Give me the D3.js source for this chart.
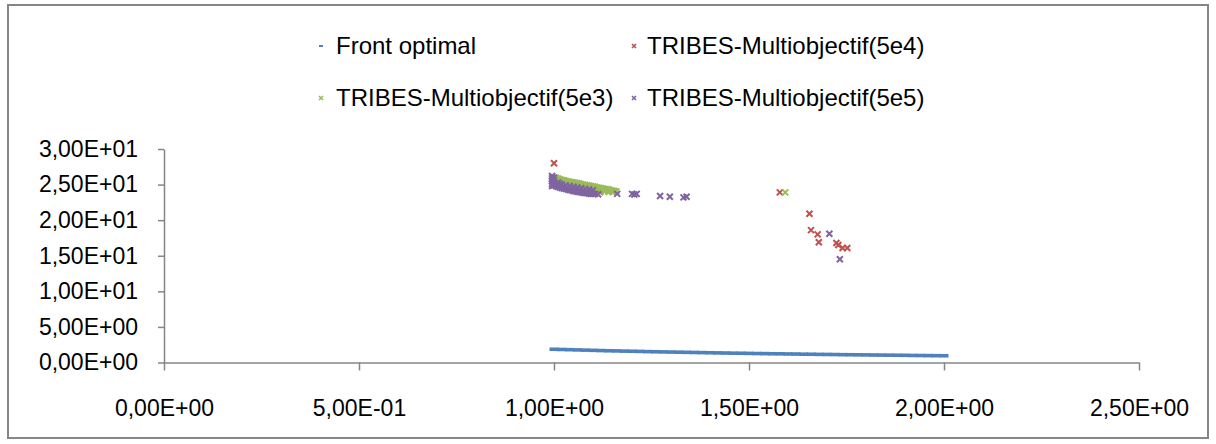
<!DOCTYPE html>
<html>
<head>
<meta charset="utf-8">
<script src="https://cdn.jsdelivr.net/npm/d3@7/dist/d3.min.js"></script>
<style>
  html, body { margin: 0; padding: 0; background: #ffffff; }
  svg { display: block; }
  text { font-family: "Liberation Sans", Arial, sans-serif; fill: #000; }
</style>
</head>
<body>
<svg id="chart" width="1216" height="444"></svg>
<script>
// ---------- DATA ----------
const seriesNames = ["Front optimal", "TRIBES-Multiobjectif(5e4)", "TRIBES-Multiobjectif(5e3)", "TRIBES-Multiobjectif(5e5)"];

const xTickValues = [0, 0.5, 1.0, 1.5, 2.0, 2.5];
const xTickLabels = ["0,00E+00", "5,00E-01", "1,00E+00", "1,50E+00", "2,00E+00", "2,50E+00"];
const yTickValues = [0, 5, 10, 15, 20, 25, 30];
const yTickLabels = ["0,00E+00", "5,00E+00", "1,00E+01", "1,50E+01", "2,00E+01", "2,50E+01", "3,00E+01"];

// Front optimal
const frontX = [1.00,1.02,1.04,1.06,1.08,1.10,1.12,1.14,1.16,1.18,1.20,1.22,1.24,1.26,1.28,1.30,1.32,1.34,1.36,1.38,1.40,1.42,1.44,1.46,1.48,1.50,1.52,1.54,1.56,1.58,1.60,1.62,1.64,1.66,1.68,1.70,1.72,1.74,1.76,1.78,1.80,1.82,1.84,1.86,1.88,1.90,1.92,1.94,1.96,1.98,2.00];
const frontY = [1.86,1.83,1.80,1.77,1.74,1.71,1.68,1.65,1.63,1.60,1.58,1.56,1.53,1.51,1.49,1.47,1.45,1.43,1.41,1.39,1.37,1.35,1.33,1.31,1.30,1.28,1.26,1.25,1.23,1.22,1.20,1.19,1.17,1.16,1.14,1.13,1.12,1.10,1.09,1.08,1.07,1.05,1.04,1.03,1.02,1.01,0.99,0.98,0.97,0.96,0.95];

// TRIBES-Multiobjectif(5e4) (red)
const red5e4X = [1.000,1.02,1.04,1.06,1.08,1.10,1.118,1.131,1.14,1.579,1.655,1.659,1.676,1.679,1.724,1.729,1.740,1.752];
const red5e4Y = [28.0,25.5,25.2,25.0,24.8,24.5,23.95,24.2,24.1,23.9,20.9,18.6,18.0,16.9,16.8,16.5,16.1,16.1];

// TRIBES-Multiobjectif(5e3) (green)
const green5e3X = [1.005,1.010,1.015,1.020,1.025,1.030,1.035,1.040,1.045,1.050,1.055,1.060,1.065,1.070,1.075,1.080,1.085,1.090,1.095,1.100,1.105,1.110,1.115,1.120,1.125,1.130,1.135,1.140,1.145,1.150,1.155,1.160,
                   1.010,1.020,1.030,1.040,1.050,1.060,1.070,1.080,1.090,1.100,1.110,1.120,1.130,1.140,1.150,
                   1.593];
const green5e3Y = [25.95,25.85,25.75,25.65,25.6,25.5,25.45,25.4,25.35,25.3,25.25,25.2,25.15,25.05,25.0,24.95,24.9,24.85,24.8,24.75,24.7,24.6,24.55,24.5,24.45,24.4,24.35,24.3,24.2,24.15,24.1,24.05,
                   25.4,25.2,25.05,24.95,24.85,24.75,24.65,24.55,24.45,24.35,24.25,24.15,24.05,24.0,23.95,
                   23.9];

// TRIBES-Multiobjectif(5e5) (purple)
const purple5e5X = [0.995,0.995,0.995,0.995,0.995,1.000,1.000,1.000,1.000,
                    1.005,1.010,1.015,1.020,1.025,1.030,1.035,1.040,1.045,1.050,1.055,1.060,1.065,1.070,1.075,1.080,1.085,1.090,1.095,1.100,1.105,1.113,
                    1.010,1.015,1.020,1.030,1.040,1.050,1.060,1.070,1.080,1.090,1.100,
                    1.162,1.200,1.206,1.212,1.272,1.297,1.332,1.340,1.706,1.733];
const purple5e5Y = [26.2,25.9,25.5,25.1,24.8,26.0,25.6,25.2,24.9,
                    24.8,24.7,24.6,24.5,24.45,24.4,24.3,24.25,24.2,24.1,24.05,24.0,23.95,23.9,23.85,23.8,23.8,23.75,23.7,23.7,23.7,23.65,
                    25.3,25.1,25.0,24.9,24.8,24.7,24.6,24.5,24.4,24.3,24.2,
                    23.7,23.7,23.6,23.7,23.4,23.3,23.2,23.3,18.1,14.5];

// ---------- LAYOUT ----------
const svg = d3.select("#chart");
const colors = ["#4F81BD", "#C0504D", "#9BBB59", "#8064A2"];
const axisColor = "#868686";

const plotLeft = 164, plotRight = 1139, plotTop = 149, plotBottom = 362.5;
const x = d3.scaleLinear().domain([0, 2.5]).range([plotLeft, plotRight]);
const y = d3.scaleLinear().domain([0, 30]).range([plotBottom, plotTop]);

// outer border
svg.append("rect")
  .attr("x", 8).attr("y", 5).attr("width", 1200).attr("height", 433)
  .attr("fill", "none").attr("stroke", axisColor).attr("stroke-width", 2);

// y axis
const yAxis = d3.axisLeft(y).tickValues(yTickValues)
  .tickFormat((d, i) => yTickLabels[i]).tickSizeOuter(0).tickSizeInner(6).tickPadding(20);
const gy = svg.append("g").attr("transform", `translate(${plotLeft},0)`).call(yAxis);
gy.select(".domain").attr("stroke", axisColor).attr("stroke-width", 1.5);
gy.selectAll(".tick line").attr("stroke", axisColor).attr("stroke-width", 1.5);
gy.selectAll(".tick text").attr("font-size", 23).attr("font-family", "Liberation Sans, Arial, sans-serif").attr("fill", "#000");

// x axis
const xAxis = d3.axisBottom(x).tickValues(xTickValues)
  .tickFormat((d, i) => xTickLabels[i]).tickSizeOuter(0).tickSizeInner(8).tickPadding(29);
const gx = svg.append("g").attr("transform", `translate(0,${plotBottom})`).call(xAxis);
gx.select(".domain").attr("stroke", axisColor).attr("stroke-width", 1.5);
gx.selectAll(".tick line").attr("stroke", axisColor).attr("stroke-width", 1.5);
gx.selectAll(".tick text").attr("font-size", 23).attr("font-family", "Liberation Sans, Arial, sans-serif").attr("fill", "#000");

// ---------- MARKS ----------
function xMark(g, cx, cy, s, color, w) {
  g.append("path")
    .attr("d", `M${cx - s},${cy - s}L${cx + s},${cy + s}M${cx - s},${cy + s}L${cx + s},${cy - s}`)
    .attr("stroke", color).attr("stroke-width", w).attr("fill", "none");
}

// front optimal (dash markers)
const front = frontX.map((v, i) => ({ x: v, y: frontY[i] }));
svg.append("g").selectAll("rect").data(front).join("rect")
  .attr("x", d => x(d.x) - 4.5).attr("y", d => y(d.y) - 1.8)
  .attr("width", 9).attr("height", 3.6).attr("fill", colors[0]);

const scatterSeries = [
  { xs: red5e4X, ys: red5e4Y, color: colors[1] },
  { xs: green5e3X, ys: green5e3Y, color: colors[2] },
  { xs: purple5e5X, ys: purple5e5Y, color: colors[3] }
];
scatterSeries.forEach(s => {
  const g = svg.append("g");
  s.xs.forEach((v, i) => xMark(g, x(v), y(s.ys[i]), 3, s.color, 2));
});

// ---------- LEGEND ----------
const legendItems = [
  { name: seriesNames[0], color: colors[0], type: "dash", mx: 321, tx: 336, ty: 46 },
  { name: seriesNames[1], color: colors[1], type: "x", mx: 634, tx: 647, ty: 46 },
  { name: seriesNames[2], color: colors[2], type: "x", mx: 321, tx: 336, ty: 98 },
  { name: seriesNames[3], color: colors[3], type: "x", mx: 634, tx: 647, ty: 98 }
];
const lg = svg.append("g");
legendItems.forEach(it => {
  if (it.type === "dash") {
    lg.append("rect").attr("x", it.mx - 2).attr("y", it.ty - 1).attr("width", 4).attr("height", 2).attr("fill", it.color);
  } else {
    xMark(lg, it.mx, it.ty, 2, it.color, 1.6);
  }
  lg.append("text").attr("x", it.tx).attr("y", it.ty).attr("dy", "0.35em")
    .attr("font-size", 24).text(it.name);
});
</script>
</body>
</html>
